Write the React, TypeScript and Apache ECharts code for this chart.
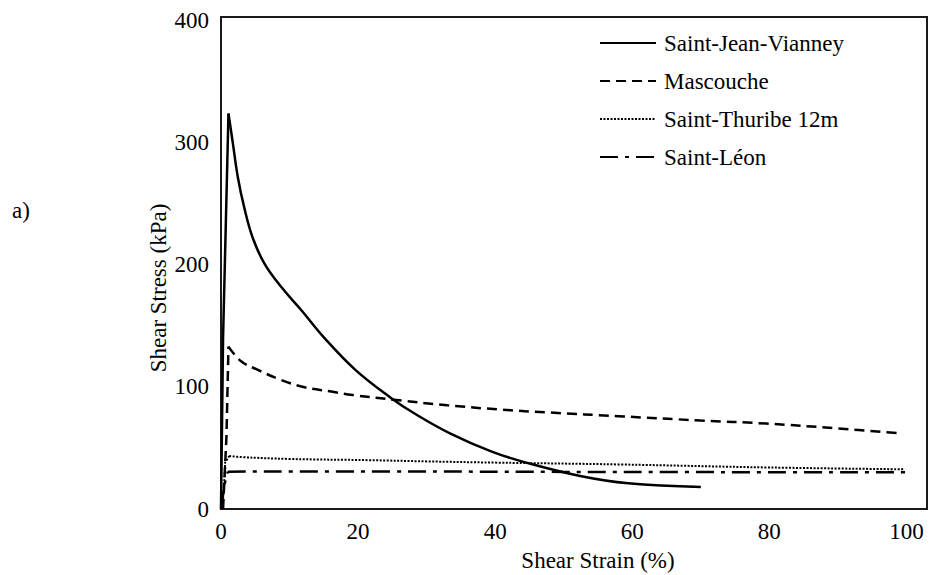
import React, { useEffect, useRef } from "react";
import * as echarts from "echarts";

const seriesNames = ["Saint-Jean-Vianney", "Mascouche", "Saint-Thuribe 12m", "Saint-Léon"];

// rising (loading) branch and softening branch of each test
const sjvRise: [number, number][] = [[0, 0], [0.3, 140], [1.09, 324]];
const sjvSoft: [number, number][] = [
  [1.09, 324], [1.72, 300], [2.45, 272], [3.43, 246], [4.64, 222],
  [6.34, 201], [8.77, 182], [11.7, 163], [15.1, 140], [19.6, 114], [24.8, 91],
  [28.3, 78], [33.4, 62], [39.5, 47], [44.5, 38], [52.4, 27], [59.4, 21], [70, 18],
];
const mascoucheRise: [number, number][] = [[0.3, 0], [0.8, 60], [1.09, 133]];
const mascoucheSoft: [number, number][] = [
  [1.09, 133], [2.94, 121], [5.37, 114], [8.77, 105.7], [12.2, 99.7],
  [16.1, 96.2], [19.2, 93.4], [26, 89], [33, 85], [40.6, 81.5], [48, 79], [58, 76],
  [70, 72.5], [79.5, 70], [90, 66], [99.2, 62],
];
const thuribeRise: [number, number][] = [[0.2, 0], [0.5, 25], [0.6, 38], [1.2, 43.4]];
const thuribeSoft: [number, number][] = [
  [1.2, 43.4], [3, 42.5], [10, 41], [21.6, 40], [30, 39],
  [40, 38], [58, 36.5], [80, 34], [99.7, 32.5],
];
const leonRise: [number, number][] = [[0, 0], [0.5, 20], [1, 30.6]];
const leonSoft: [number, number][] = [[1, 30.6], [20, 30.8], [50, 30.4], [100, 30]];

const xTicks = [0, 20, 40, 60, 80, 100];
const yTicks = [0, 100, 200, 300, 400];

const FONT = "Liberation Serif";
const FS = 23;

export default function App() {
  const ref = useRef<HTMLDivElement>(null);
  useEffect(() => {
    if (!ref.current) return;
    const chart = echarts.init(ref.current, null, { renderer: "svg" });
    const mk = (name: string, data: [number, number][], type: any, width: number, smooth: number | boolean) => ({
      name,
      type: "line",
      data,
      showSymbol: false,
      symbol: "none",
      smooth,
      lineStyle: { color: "#000", width, type },
      itemStyle: { color: "#000" },
    });
    chart.setOption({
      animation: false,
      backgroundColor: "#fff",
      textStyle: { fontFamily: FONT },
      grid: {
        left: 221, top: 17, right: 3, bottom: 66,
        show: true, borderColor: "#1a1a1a", borderWidth: 2, backgroundColor: "transparent",
      },
      xAxis: {
        type: "value", min: 0, max: 103, interval: 20,
        axisLine: { show: false }, axisTick: { show: false }, splitLine: { show: false },
        axisLabel: {
          margin: 11, fontSize: FS, fontFamily: FONT, color: "#000",
          formatter: (v: number) => (xTicks.includes(v) ? String(v) : ""),
        },
      },
      yAxis: {
        type: "value", min: 0, max: 403, interval: 100,
        axisLine: { show: false }, axisTick: { show: false }, splitLine: { show: false },
        axisLabel: {
          margin: 12, fontSize: FS, fontFamily: FONT, color: "#000",
          formatter: (v: number) => (yTicks.includes(v) ? String(v) : ""),
        },
      },
      legend: {
        orient: "vertical", left: 599, top: 31, padding: 0,
        itemWidth: 56, itemHeight: 14, itemGap: 14,
        itemStyle: { opacity: 0 },
        textStyle: { fontSize: FS, fontFamily: FONT, color: "#000", lineHeight: 24, padding: [0, 0, 0, 3] },
        data: seriesNames,
      },
      graphic: [
        {
          type: "text", left: 12, top: 199,
          style: { text: "a)", fontSize: FS, fontFamily: FONT, fill: "#000" },
        },
        {
          type: "text", x: 598, y: 560,
          style: { text: "Shear Strain (%)", fontSize: FS, fontFamily: FONT, fill: "#000", align: "center", verticalAlign: "middle" },
        },
        {
          type: "text", x: 158, y: 288, rotation: Math.PI / 2,
          style: { text: "Shear Stress (kPa)", fontSize: FS, fontFamily: FONT, fill: "#000", align: "center", verticalAlign: "middle" },
        },
      ],
      series: [
        mk(seriesNames[0], sjvRise, "solid", 2.5, false),
        mk(seriesNames[1], mascoucheRise, [10, 6], 2.5, false),
        mk(seriesNames[2], thuribeRise, [2, 1.5], 2, false),
        mk(seriesNames[3], leonRise, [18, 7, 4, 7], 2.5, false),
        mk(seriesNames[0], sjvSoft, "solid", 2.5, 0.4),
        mk(seriesNames[1], mascoucheSoft, [10, 6], 2.5, 0.4),
        mk(seriesNames[2], thuribeSoft, [2, 1.5], 2, 0.4),
        mk(seriesNames[3], leonSoft, [18, 7, 4, 7], 2.5, 0.4),
      ],
    });
    return () => chart.dispose();
  }, []);
  return <div ref={ref} style={{ width: 930, height: 575, position: "absolute", left: 0, top: 0 }} />;
}
